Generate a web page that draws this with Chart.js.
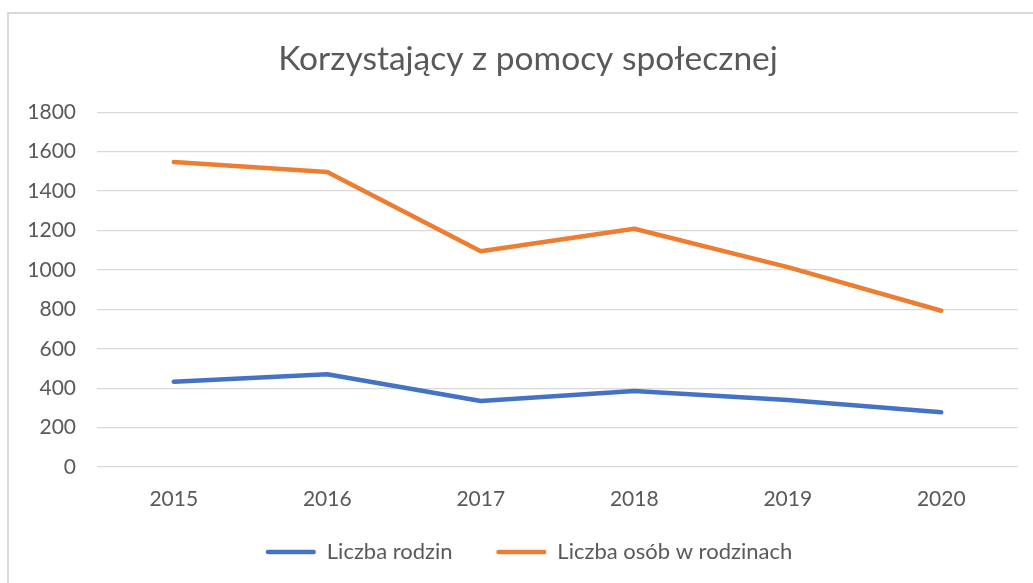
<!DOCTYPE html>
<html>
<head>
<meta charset="utf-8">
<script src="https://cdn.jsdelivr.net/npm/chart.js@4.4.1/dist/chart.umd.min.js"></script>
<style>
  html, body { margin: 0; padding: 0; width: 1033px; height: 583px; overflow: hidden; background: #ffffff; }
  #frame { position: absolute; left: 7px; top: 12px; width: 1200px; height: 800px; border: 2px solid #d9d9d9; box-sizing: border-box; }
  #wrap { position: absolute; left: 0; top: 0; width: 1062px; height: 583px; }
</style>
</head>
<body>
<div id="frame"></div>
<div id="wrap"><canvas id="c"></canvas></div>
<script>
const titleText = 'Korzystający z pomocy społecznej';
const categories = ['2015', '2016', '2017', '2018', '2019', '2020'];
const seriesNames = ['Liczba rodzin', 'Liczba osób w rodzinach'];
const liczbaRodzin = [433, 471, 335, 386, 340, 278];
const liczbaOsob = [1548, 1497, 1095, 1209, 1014, 793];
const yTicks = [0, 200, 400, 600, 800, 1000, 1200, 1400, 1600, 1800];

const textColor = '#595959';
const fontFamily = 'Lato, "Open Sans", sans-serif';

// Shift the centring boxes of the title and legend so they centre on the
// full (wider than viewport) chart object, as in the reference.
const recentre = {
  id: 'recentre',
  afterLayout(chart) {
    if (chart.titleBlock) { chart.titleBlock.left = 38; }
    if (chart.legend) { chart.legend.left = 40; }
  }
};

new Chart(document.getElementById('c'), {
  type: 'line',
  data: {
    labels: categories,
    datasets: [
      {
        label: seriesNames[0],
        data: liczbaRodzin,
        borderColor: '#4472C4',
        backgroundColor: '#4472C4',
        borderWidth: 4.5,
        pointRadius: 0,
        pointHoverRadius: 0,
        borderCapStyle: 'round',
        borderJoinStyle: 'round',
        tension: 0
      },
      {
        label: seriesNames[1],
        data: liczbaOsob,
        borderColor: '#ED7D31',
        backgroundColor: '#ED7D31',
        borderWidth: 4.5,
        pointRadius: 0,
        pointHoverRadius: 0,
        borderCapStyle: 'round',
        borderJoinStyle: 'round',
        tension: 0
      }
    ]
  },
  plugins: [recentre],
  options: {
    responsive: true,
    maintainAspectRatio: false,
    animation: false,
    devicePixelRatio: 1,
    layout: { padding: { left: 0, right: 44, top: 0, bottom: 10 } },
    plugins: {
      tooltip: { enabled: false },
      title: {
        display: true,
        text: titleText,
        color: textColor,
        font: { family: fontFamily, size: 33.5, weight: 'normal' },
        padding: { top: 39.5, bottom: 32.6 }
      },
      legend: {
        display: true,
        position: 'bottom',
        labels: {
          color: textColor,
          font: { family: fontFamily, size: 22 },
          boxWidth: 50,
          boxHeight: 4.5,
          padding: 10,
          useBorderRadius: true,
          borderRadius: 2,
          generateLabels: (chart) => {
            const items = Chart.defaults.plugins.legend.labels.generateLabels(chart);
            return items.map((it, i) => Object.assign(it, {
              text: i < items.length - 1 ? it.text + ' '.repeat(6) : it.text,
              lineWidth: 0,
              fillStyle: it.strokeStyle,
              borderRadius: 2
            }));
          }
        }
      }
    },
    scales: {
      x: {
        offset: true,
        grid: { display: false, drawTicks: false },
        border: { display: false },
        ticks: { color: textColor, font: { family: fontFamily, size: 21 }, padding: 20, maxRotation: 0 },
        afterFit: (s) => { s.height = 64; }
      },
      y: {
        min: 0,
        max: 1800,
        afterBuildTicks: (s) => { s.ticks = yTicks.map(v => ({ value: v })); },
        grid: { color: '#d9d9d9', lineWidth: 1.3, drawTicks: false },
        border: { display: false },
        ticks: { color: textColor, font: { family: fontFamily, size: 21 }, padding: 21, callback: (v) => String(v) },
        afterFit: (s) => { s.width = 97; }
      }
    }
  }
});
</script>
</body>
</html>
